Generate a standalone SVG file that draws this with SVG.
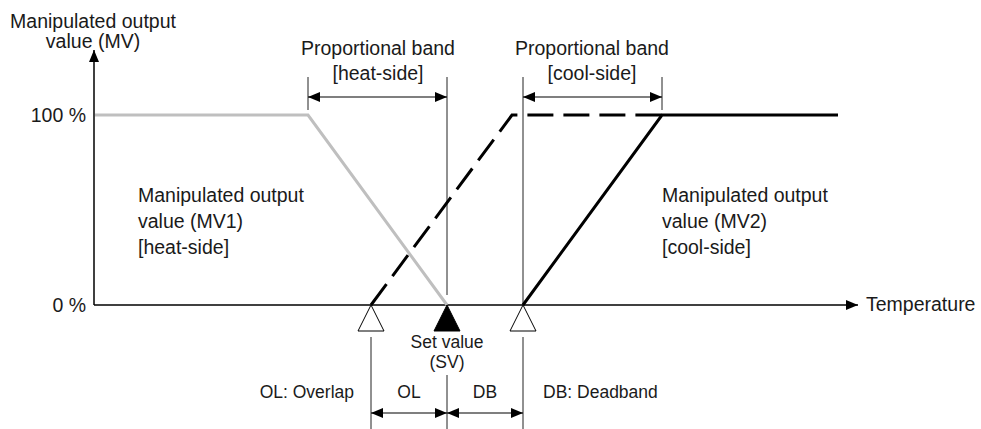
<svg xmlns="http://www.w3.org/2000/svg" width="981" height="429" viewBox="0 0 981 429">
<defs>
<style>
text{font-family:"Liberation Sans",Arial,sans-serif;fill:#1a1a1a;font-size:19.5px}
.s{font-size:17.5px}
.m{text-anchor:middle}
.e{text-anchor:end}
.ax{stroke:#000;stroke-width:1.5;fill:none}
.thin{stroke:#222;stroke-width:1;fill:none}
.grey{stroke:#bfbfbf;stroke-width:3;fill:none}
.blk{stroke:#000;stroke-width:3;fill:none}
.dash{stroke:#000;stroke-width:3;fill:none;stroke-dasharray:26 10}
.dim{stroke:#000;stroke-width:1.2;fill:none;marker-start:url(#ah);marker-end:url(#ah)}
</style>
<marker id="ah" viewBox="0 0 12 10" refX="12" refY="5" markerWidth="12" markerHeight="10" markerUnits="userSpaceOnUse" orient="auto-start-reverse">
<path d="M0,0 L12,5 L0,10 Z" fill="#000"/>
</marker>
<marker id="axh" viewBox="0 0 12 10" refX="12" refY="5" markerWidth="12" markerHeight="10" markerUnits="userSpaceOnUse" orient="auto">
<path d="M0,0 L12,5 L0,10 Z" fill="#000"/>
</marker>
</defs>
<g id="connectors">
<path class="ax" d="M94,305 V50" marker-end="url(#axh)"/>
<path class="ax" d="M94,305 H858" marker-end="url(#axh)"/>
<path class="thin" d="M308,77 V110"/>
<path class="thin" d="M447,77 V295"/>
<path class="thin" d="M523,77 V305"/>
<path class="thin" d="M662,77 V110"/>
<path class="dim" d="M308,97 H447"/>
<path class="dim" d="M523,97 H662"/>
<path class="dash" d="M371,305 L512,115 H662"/>
<path class="grey" d="M95,115 H308 L447,305"/>
<path class="blk" d="M523,305 L662,115 H838"/>
<path class="thin" d="M371,337 V429"/>
<path class="thin" d="M447,375 V429"/>
<path class="thin" d="M523,337 V429"/>
<path class="dim" d="M371,413 H447"/>
<path class="dim" d="M447,413 H523"/>
</g>
<g id="axis-labels">
<text class="m" x="93" y="28">Manipulated output</text>
<text class="m" x="93" y="48">value (MV)</text>
<text class="e" x="86" y="122">100 %</text>
<text class="e" x="86" y="312">0 %</text>
<text x="866" y="311">Temperature</text>
</g>
<g id="band-heat">
<text class="m" x="378" y="55">Proportional band</text>
<text class="m" x="378" y="80">[heat-side]</text>
</g>
<g id="band-cool">
<text class="m" x="592" y="55">Proportional band</text>
<text class="m" x="592" y="80">[cool-side]</text>
</g>
<g id="mv1">
<text x="138" y="202">Manipulated output</text>
<text x="138" y="228">value (MV1)</text>
<text x="138" y="254">[heat-side]</text>
</g>
<g id="mv2">
<text x="662" y="202">Manipulated output</text>
<text x="662" y="228">value (MV2)</text>
<text x="662" y="254">[cool-side]</text>
</g>
<g id="markers">
<path d="M371,305 L384,331 H358 Z" fill="#fff" stroke="#000" stroke-width="1"/>
<path d="M447,305 L460,331 H434 Z" fill="#000" stroke="#000" stroke-width="1"/>
<path d="M523,305 L536,331 H510 Z" fill="#fff" stroke="#000" stroke-width="1"/>
</g>
<g id="set-value">
<text class="m s" x="447" y="348">Set value</text>
<text class="m s" x="447" y="368">(SV)</text>
</g>
<g id="bottom-labels">
<text class="e s" x="354" y="398">OL: Overlap</text>
<text class="m s" x="409" y="398">OL</text>
<text class="m s" x="485" y="398">DB</text>
<text class="s" x="543" y="398">DB: Deadband</text>
</g>
</svg>
